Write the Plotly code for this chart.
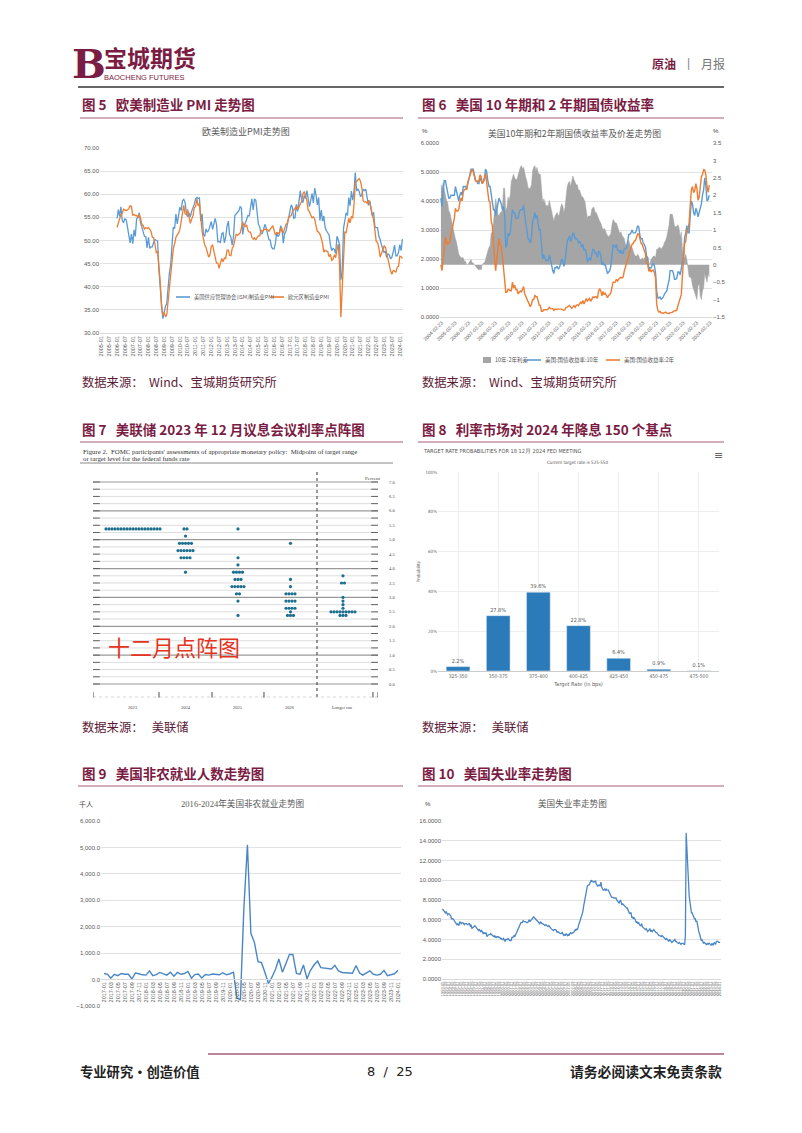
import pandas as pd
import plotly.graph_objects as go

W, H = 802, 1133
def fx(p): return p / W
def fy(p): return 1 - p / H

MAROON = "#7a1c43"
LINE_PINK = "#a35c7c"
GRAY_TXT = "#595959"
BLUE = "#5b9bd5"
ORANGE = "#ed7d31"
SPREAD_GRAY = "#a5a5a5"
NFP_BLUE = "#4a86c5"
DOT_COLOR = "#1d6f8f"
CJK = "Noto Sans CJK SC"
NUM = "Liberation Sans"
NARROW = "Liberation Sans Narrow, DejaVu Sans Condensed, Liberation Sans, sans-serif"
SERIF = "Liberation Serif"

# ---------------- Fig 5: PMI (monthly 2006-01 .. 2024-03) ----------------
ism_pmi = [
    54.8, 56.7, 55.2, 57.3, 54.4, 53.8, 54.7, 54.5, 52.9, 51.2, 49.5, 51.4,
    49.3, 52.3, 50.9, 54.7, 55.0, 56.0, 53.8, 52.9, 52.0, 50.9, 50.8, 48.4,
    50.7, 48.3, 48.6, 48.6, 49.6, 50.2, 50.0, 49.9, 43.5, 38.9, 36.2, 33.1,
    34.9, 35.8, 36.3, 40.1, 42.8, 44.8, 48.9, 52.9, 52.6, 55.7, 53.6, 55.9,
    57.2, 56.5, 58.6, 58.9, 58.3, 56.0, 55.1, 56.0, 55.1, 56.3, 57.0, 57.8,
    59.0, 59.3, 59.1, 59.2, 54.2, 55.8, 51.4, 50.9, 52.5, 51.8, 52.2, 53.1,
    54.1, 52.4, 53.4, 54.8, 53.5, 49.7, 49.8, 49.6, 51.5, 51.7, 49.5, 50.7,
    53.1, 54.2, 51.3, 50.7, 49.0, 50.9, 55.4, 55.7, 56.2, 56.4, 57.3, 57.0,
    51.3, 53.2, 53.7, 54.9, 55.4, 55.3, 57.1, 59.0, 56.6, 59.0, 58.7, 55.5,
    53.5, 52.9, 51.5, 51.5, 52.8, 53.5, 52.7, 51.1, 50.2, 50.1, 48.6, 48.2,
    48.2, 49.5, 51.8, 50.8, 51.3, 53.2, 52.6, 49.4, 51.5, 51.9, 53.2, 54.7,
    56.0, 57.7, 57.2, 54.8, 54.9, 57.8, 56.3, 58.8, 60.8, 58.7, 58.2, 59.7,
    59.1, 60.8, 59.3, 57.3, 58.7, 60.2, 58.1, 61.3, 59.8, 57.7, 59.3, 54.3,
    56.6, 54.2, 55.3, 52.8, 52.1, 51.7, 51.2, 49.1, 47.8, 48.3, 48.1, 47.2,
    50.9, 50.1, 49.1, 41.5, 43.1, 52.6, 54.2, 56.0, 55.4, 59.3, 57.5, 60.7,
    58.7, 60.8, 64.7, 60.7, 61.2, 60.6, 59.5, 59.9, 61.1, 60.8, 61.1, 58.7,
    57.6, 58.6, 57.1, 55.4, 56.1, 53.0, 52.8, 52.8, 50.9, 50.2, 49.0, 48.4,
    47.4, 47.7, 46.3, 47.1, 46.9, 46.0, 46.4, 47.6, 49.0, 46.7, 46.7, 47.4,
    49.1, 47.8, 50.3,
]
euro_pmi = [
    52.8, 53.7, 54.4, 55.6, 55.8, 56.8, 56.6, 56.5, 56.6, 56.9, 57.5, 57.4,
    55.5, 55.6, 55.4, 55.4, 55.0, 55.6, 54.9, 53.5, 53.2, 52.4, 52.8, 52.6,
    52.8, 52.3, 52.0, 50.7, 50.6, 49.2, 47.4, 47.6, 45.0, 41.1, 35.6, 33.9,
    34.4, 33.5, 33.9, 36.8, 40.7, 42.6, 46.3, 48.2, 49.3, 50.7, 51.2, 51.6,
    52.4, 54.2, 56.6, 57.6, 55.8, 55.6, 56.7, 55.1, 53.7, 54.6, 55.3, 57.1,
    57.3, 59.0, 57.5, 58.0, 54.6, 52.0, 50.4, 49.0, 48.5, 47.1, 46.4, 46.9,
    48.8, 49.0, 47.7, 45.9, 45.1, 45.1, 44.0, 45.1, 46.1, 45.4, 46.2, 46.1,
    47.9, 47.9, 46.8, 46.7, 48.3, 48.8, 50.3, 51.4, 51.1, 51.3, 51.6, 52.7,
    54.0, 53.2, 53.0, 53.4, 52.2, 51.8, 51.8, 50.7, 50.3, 50.6, 50.1, 50.6,
    51.0, 51.0, 52.2, 52.0, 52.2, 52.5, 52.4, 52.3, 52.0, 52.3, 52.8, 53.2,
    52.3, 51.2, 51.6, 51.7, 51.5, 52.8, 52.0, 51.7, 52.6, 53.5, 53.7, 54.9,
    55.2, 55.4, 56.2, 56.7, 57.0, 57.4, 56.6, 57.4, 58.1, 58.5, 60.1, 60.6,
    59.6, 58.6, 56.6, 56.2, 55.5, 54.9, 55.1, 54.6, 53.2, 52.0, 51.8, 51.4,
    50.5, 49.3, 47.5, 47.9, 47.7, 47.6, 46.5, 47.0, 45.7, 45.9, 46.9, 46.3,
    47.9, 49.2, 44.5, 33.4, 39.4, 47.4, 51.8, 51.7, 53.7, 54.8, 53.8, 55.2,
    54.8, 57.9, 62.5, 62.9, 63.1, 63.4, 62.8, 61.4, 58.6, 58.3, 58.4, 58.0,
    58.7, 58.2, 56.5, 55.5, 54.6, 52.1, 49.8, 49.6, 48.4, 46.4, 47.1, 47.8,
    48.8, 48.5, 47.3, 45.8, 44.8, 43.4, 42.7, 43.5, 43.4, 43.1, 44.2, 44.4,
    46.6, 46.5, 46.1,
]
pmi_dates = pd.date_range("2006-01-01", periods=len(ism_pmi), freq="MS")
pmi_tick_vals = list(pd.date_range("2005-01-01", "2024-01-01", freq="6MS"))
pmi_tick_text = [d.strftime("%Y-%m") for d in pmi_tick_vals]
pmi_series_names = ["美国供应管理协会(ISM)制造业PMI", "欧元区制造业PMI"]

# ---------------- Fig 6: US 10Y / 2Y yields (monthly 2004-02 .. 2024-02) ----------------
us10y = [
    4.1, 3.8, 4.35, 4.7, 4.7, 4.5, 4.3, 4.1, 4.1, 4.2, 4.2,
    4.2, 4.2, 4.5, 4.3, 4.1, 4.0, 4.2, 4.3, 4.2, 4.5, 4.5, 4.5,
    4.4, 4.6, 4.7, 5.0, 5.1, 5.1, 5.1, 4.9, 4.7, 4.7, 4.6, 4.6,
    4.8, 4.7, 4.6, 4.7, 4.8, 5.1, 5.0, 4.7, 4.5, 4.5, 4.2, 4.1,
    3.7, 3.7, 3.5, 3.7, 3.9, 4.1, 4.0, 3.9, 3.7, 3.8, 3.5, 2.4,
    2.5, 2.9, 2.8, 2.9, 3.3, 3.7, 3.6, 3.6, 3.4, 3.4, 3.4, 3.6,
    3.7, 3.7, 3.7, 3.85, 3.4, 3.2, 3.0, 2.7, 2.65, 2.55, 2.75, 3.3,
    3.4, 3.6, 3.4, 3.5, 3.2, 3.0, 3.0, 2.3, 2.0, 2.15, 2.0, 1.95,
    1.95, 1.95, 2.15, 2.0, 1.8, 1.6, 1.5, 1.7, 1.7, 1.75, 1.65, 1.7,
    1.9, 2.0, 1.95, 1.75, 1.9, 2.3, 2.6, 2.7, 2.8, 2.6, 2.7, 2.9,
    2.85, 2.7, 2.7, 2.7, 2.55, 2.6, 2.55, 2.4, 2.5, 2.3, 2.35, 2.2,
    1.9, 2.0, 2.05, 1.95, 2.2, 2.35, 2.3, 2.2, 2.2, 2.05, 2.25, 2.25,
    2.1, 1.8, 1.9, 1.8, 1.8, 1.65, 1.5, 1.55, 1.6, 1.75, 2.15, 2.5,
    2.45, 2.4, 2.5, 2.3, 2.3, 2.2, 2.3, 2.2, 2.2, 2.35, 2.35, 2.4,
    2.6, 2.85, 2.85, 2.9, 3.0, 2.9, 2.9, 2.9, 3.0, 3.15, 3.1, 2.8,
    2.7, 2.7, 2.55, 2.5, 2.4, 2.1, 2.05, 1.6, 1.7, 1.7, 1.8, 1.85,
    1.75, 1.5, 0.9, 0.65, 0.65, 0.7, 0.6, 0.65, 0.7, 0.8, 0.85, 0.9,
    1.1, 1.25, 1.6, 1.6, 1.6, 1.5, 1.3, 1.3, 1.35, 1.55, 1.55, 1.45,
    1.75, 1.9, 2.1, 2.75, 2.9, 3.15, 2.9, 2.9, 3.5, 4.0, 3.9, 3.6,
    3.5, 3.75, 3.65, 3.45, 3.6, 3.75, 3.9, 4.2, 4.4, 4.8, 4.5, 4.0,
    4.05, 4.2,
]
us2y = [
    1.8, 1.6, 2.0, 2.5, 2.75, 2.65, 2.5, 2.55, 2.6, 2.85, 3.0,
    3.2, 3.4, 3.75, 3.65, 3.65, 3.7, 3.95, 4.1, 4.0, 4.3, 4.4, 4.4,
    4.4, 4.65, 4.75, 4.9, 4.95, 5.1, 5.0, 4.8, 4.7, 4.7, 4.65, 4.7,
    4.9, 4.85, 4.6, 4.65, 4.75, 4.95, 4.7, 4.3, 4.0, 3.95, 3.3, 3.15,
    2.5, 2.1, 1.6, 2.0, 2.45, 2.7, 2.5, 2.4, 2.1, 1.6, 1.3, 0.85,
    0.85, 0.95, 0.95, 0.9, 0.9, 1.2, 1.0, 1.1, 0.95, 0.95, 0.8, 0.85,
    0.9, 0.85, 0.95, 1.05, 0.8, 0.7, 0.6, 0.5, 0.45, 0.35, 0.45, 0.6,
    0.6, 0.75, 0.7, 0.7, 0.55, 0.4, 0.4, 0.2, 0.2, 0.25, 0.25, 0.25,
    0.25, 0.28, 0.33, 0.29, 0.29, 0.29, 0.23, 0.27, 0.26, 0.28, 0.27, 0.26,
    0.27, 0.27, 0.26, 0.23, 0.25, 0.33, 0.34, 0.36, 0.4, 0.34, 0.3, 0.34,
    0.39, 0.33, 0.4, 0.42, 0.39, 0.45, 0.51, 0.47, 0.57, 0.45, 0.53, 0.64,
    0.55, 0.62, 0.64, 0.54, 0.61, 0.69, 0.67, 0.7, 0.69, 0.64, 0.88, 0.98,
    0.9, 0.73, 0.88, 0.77, 0.82, 0.73, 0.67, 0.74, 0.77, 0.84, 0.98, 1.2,
    1.2, 1.21, 1.3, 1.24, 1.3, 1.34, 1.37, 1.34, 1.38, 1.58, 1.72, 1.84,
    2.0, 2.18, 2.28, 2.42, 2.51, 2.53, 2.62, 2.64, 2.77, 2.86, 2.86, 2.68,
    2.54, 2.5, 2.41, 2.31, 2.17, 1.85, 1.84, 1.57, 1.65, 1.55, 1.61, 1.61,
    1.52, 1.33, 0.45, 0.23, 0.17, 0.19, 0.14, 0.14, 0.13, 0.15, 0.17, 0.13,
    0.13, 0.12, 0.15, 0.16, 0.16, 0.2, 0.22, 0.21, 0.24, 0.39, 0.52, 0.68,
    0.78, 1.44, 1.91, 2.54, 2.6, 2.99, 3.0, 3.25, 3.86, 4.38, 4.5, 4.29,
    4.36, 4.6, 4.44, 4.03, 4.13, 4.64, 4.83, 4.92, 5.08, 5.07, 4.88, 4.5,
    4.3, 4.55,
]
spread_10y2y = [
    2.3, 2.2, 2.35, 2.2, 1.95, 1.85, 1.8, 1.55, 1.5, 1.35, 1.2,
    1.0, 0.8, 0.75, 0.65, 0.45, 0.3, 0.25, 0.2, 0.2, 0.2, 0.1, 0.1,
    0.0, 0.0, 0.05, 0.1, 0.15, 0.05, 0.05, 0.0, -0.05, -0.1, -0.12, -0.15,
    -0.12, -0.15, 0.0, 0.05, 0.05, 0.15, 0.3, 0.4, 0.5, 0.55, 0.9, 0.95,
    1.2, 1.6, 1.9, 1.7, 1.45, 1.4, 1.5, 1.5, 1.6, 2.2, 2.2, 1.55,
    1.65, 1.95, 1.85, 2.0, 2.4, 2.5, 2.6, 2.5, 2.45, 2.45, 2.6, 2.75,
    2.8, 2.85, 2.75, 2.8, 2.6, 2.5, 2.4, 2.2, 2.2, 2.2, 2.3, 2.7,
    2.8, 2.85, 2.7, 2.8, 2.65, 2.6, 2.6, 2.1, 1.8, 1.9, 1.75, 1.7,
    1.7, 1.7, 1.85, 1.7, 1.5, 1.35, 1.25, 1.4, 1.45, 1.5, 1.4, 1.45,
    1.65, 1.75, 1.7, 1.5, 1.65, 2.0, 2.25, 2.35, 2.4, 2.25, 2.4, 2.55,
    2.45, 2.35, 2.3, 2.3, 2.15, 2.15, 2.05, 1.95, 1.95, 1.85, 1.8, 1.55,
    1.35, 1.4, 1.4, 1.4, 1.6, 1.65, 1.65, 1.5, 1.5, 1.4, 1.35, 1.25,
    1.2, 1.05, 1.0, 1.05, 1.0, 0.9, 0.85, 0.8, 0.85, 0.9, 1.15, 1.3,
    1.25, 1.2, 1.2, 1.05, 1.0, 0.9, 0.95, 0.85, 0.8, 0.75, 0.6, 0.55,
    0.6, 0.7, 0.6, 0.5, 0.5, 0.35, 0.3, 0.25, 0.25, 0.3, 0.25, 0.15,
    0.15, 0.2, 0.15, 0.2, 0.2, 0.25, 0.2, 0.0, 0.05, 0.15, 0.2, 0.25,
    0.25, 0.2, 0.45, 0.45, 0.5, 0.5, 0.45, 0.5, 0.55, 0.65, 0.7, 0.8,
    0.95, 1.15, 1.45, 1.45, 1.45, 1.3, 1.1, 1.1, 1.1, 1.15, 1.05, 0.8,
    0.95, 0.45, 0.2, 0.2, 0.3, 0.15, -0.1, -0.35, -0.35, -0.4, -0.6, -0.7,
    -0.8, -0.85, -1.0, -0.6, -0.55, -0.9, -1.0, -0.75, -0.65, -0.25, -0.4, -0.5,
    -0.25, -0.35,
]
bond_dates = pd.date_range("2004-02-01", periods=len(us10y), freq="MS")
bond_tick_text = [f"{y}-02-23" for y in range(2004, 2025)]
bond_tick_vals = bond_tick_text
bond_series_names = ["10年-2年利差", "美国:国债收益率:10年", "美国:国债收益率:2年"]

# ---------------- Fig 7: Dec 2023 FOMC dot plot (level -> count) ----------------
dot_columns = ["2023", "2024", "2025", "2026", "Longer run"]
dots_2023 = {5.375: 19}
dots_2024 = {5.375: 2, 5.125: 1, 4.875: 5, 4.625: 6, 4.375: 4, 3.875: 1}
dots_2025 = {5.375: 1, 4.375: 1, 4.125: 1, 3.875: 4, 3.625: 3, 3.375: 5, 3.125: 2, 2.875: 1, 2.375: 1}
dots_2026 = {4.875: 1, 3.625: 1, 3.375: 1, 3.125: 4, 2.875: 4, 2.625: 4, 2.5: 1, 2.375: 3}
dots_longer = {3.75: 1, 3.5: 2, 3.0: 1, 2.875: 1, 2.75: 1, 2.625: 1, 2.5: 9, 2.375: 3}
dot_data = [dots_2023, dots_2024, dots_2025, dots_2026, dots_longer]
dot_axis_labels = ["7.0", "6.5", "6.0", "5.5", "5.0", "4.5", "4.0", "3.5", "3.0", "2.5", "2.0", "1.5", "1.0", "0.5", "0.0"]

# ---------------- Fig 8: CME FedWatch ----------------
rate_bins = ["325-350", "350-375", "375-400", "400-425", "425-450", "450-475", "475-500"]
rate_probs = [2.2, 27.8, 39.6, 22.8, 6.4, 0.9, 0.1]

# ---------------- Fig 9: nonfarm payrolls change (thousand, 2017-01 .. 2024-01) ----------------
nfp = [
    230, 200, 50, 200, 150, 230, 200, 200, 20, 250, 220, 180,
    170, 330, 150, 190, 270, 230, 170, 280, 130, 270, 200, 230,
    310, 50, 190, 210, 60, 190, 170, 210, 190, 180, 260, 180,
    220, 280, -700, -760, 2700, 5100, 1750, 1400, 680, 640, 260, -150,
    100, 400, 780, 280, 600, 950, 950, 230, 200, 550, 30, 350,
    550, 700, 450, 430, 400, 400, 540, 330, 270, 260, 260, 240,
    530, 250, 170, 250, 330, 200, 170, 200, 350, 150, 200, 220,
    350,
]
nfp_dates = pd.date_range("2017-01-01", periods=len(nfp), freq="MS")
nfp_tick_vals = list(pd.date_range("2017-01-01", "2024-01-01", freq="2MS"))
nfp_tick_text = [d.strftime("%Y-%m") for d in nfp_tick_vals]

# ---------------- Fig 10: unemployment rate (%, 1993-05 .. 2024-01) ----------------
unemp = [
    7.1, 7.0, 6.9, 6.8, 6.7, 6.8, 6.6, 6.5,
    6.6, 6.6, 6.5, 6.4, 6.1, 6.1, 6.1, 6.0, 5.9, 5.8, 5.6, 5.5,
    5.6, 5.4, 5.4, 5.8, 5.6, 5.6, 5.7, 5.7, 5.6, 5.5, 5.6, 5.6,
    5.6, 5.5, 5.5, 5.6, 5.6, 5.3, 5.5, 5.1, 5.2, 5.2, 5.4, 5.4,
    5.3, 5.2, 5.2, 5.1, 4.9, 5.0, 4.9, 4.8, 4.9, 4.7, 4.6, 4.7,
    4.6, 4.6, 4.7, 4.3, 4.4, 4.5, 4.5, 4.5, 4.6, 4.5, 4.4, 4.4,
    4.3, 4.4, 4.2, 4.3, 4.2, 4.3, 4.3, 4.2, 4.2, 4.1, 4.1, 4.0,
    4.0, 4.1, 4.0, 3.8, 4.0, 4.0, 4.0, 4.1, 3.9, 3.9, 3.9, 3.9,
    4.2, 4.2, 4.3, 4.4, 4.3, 4.5, 4.6, 4.9, 5.0, 5.3, 5.5, 5.7,
    5.7, 5.7, 5.7, 5.9, 5.8, 5.8, 5.8, 5.7, 5.7, 5.7, 5.9, 6.0,
    5.8, 5.9, 5.9, 6.0, 6.1, 6.3, 6.2, 6.1, 6.1, 6.0, 5.8, 5.7,
    5.7, 5.6, 5.8, 5.6, 5.6, 5.6, 5.5, 5.4, 5.4, 5.5, 5.4, 5.4,
    5.3, 5.4, 5.2, 5.2, 5.1, 5.0, 5.0, 4.9, 5.0, 5.0, 5.0, 4.9,
    4.7, 4.8, 4.7, 4.7, 4.6, 4.6, 4.7, 4.7, 4.5, 4.4, 4.5, 4.4,
    4.6, 4.5, 4.4, 4.5, 4.4, 4.6, 4.7, 4.6, 4.7, 4.7, 4.7, 5.0,
    5.0, 4.9, 5.1, 5.0, 5.4, 5.6, 5.8, 6.1, 6.1, 6.5, 6.8, 7.3,
    7.8, 8.3, 8.7, 9.0, 9.4, 9.5, 9.5, 9.6, 9.8, 10.0, 9.9, 9.9,
    9.8, 9.8, 9.9, 9.9, 9.6, 9.4, 9.4, 9.5, 9.5, 9.4, 9.8, 9.3,
    9.1, 9.0, 9.0, 9.1, 9.0, 9.1, 9.0, 9.0, 9.0, 8.8, 8.6, 8.5,
    8.3, 8.3, 8.2, 8.2, 8.2, 8.2, 8.2, 8.0, 7.8, 7.8, 7.7, 7.9,
    8.0, 7.7, 7.5, 7.6, 7.5, 7.5, 7.3, 7.2, 7.2, 7.2, 6.9, 6.7,
    6.6, 6.7, 6.7, 6.2, 6.3, 6.1, 6.2, 6.1, 5.9, 5.7, 5.8, 5.6,
    5.7, 5.5, 5.4, 5.4, 5.6, 5.3, 5.2, 5.1, 5.0, 5.0, 5.1, 5.0,
    4.8, 4.9, 5.0, 5.1, 4.8, 4.9, 4.8, 4.9, 5.0, 4.9, 4.7, 4.7,
    4.7, 4.6, 4.4, 4.4, 4.4, 4.3, 4.3, 4.4, 4.3, 4.2, 4.2, 4.1,
    4.0, 4.1, 4.0, 4.0, 3.8, 4.0, 3.8, 3.8, 3.7, 3.8, 3.8, 3.9,
    4.0, 3.8, 3.8, 3.7, 3.6, 3.6, 3.7, 3.6, 3.5, 3.6, 3.6, 3.6,
    3.5, 3.5, 4.4, 14.8, 13.2, 11.0, 10.2, 8.4, 7.8, 6.8, 6.7, 6.7,
    6.4, 6.2, 6.1, 6.1, 5.8, 5.9, 5.4, 5.1, 4.7, 4.5, 4.2, 3.9,
    4.0, 3.8, 3.6, 3.7, 3.6, 3.6, 3.5, 3.6, 3.5, 3.6, 3.6, 3.5,
    3.4, 3.6, 3.5, 3.4, 3.7, 3.6, 3.5, 3.8, 3.8, 3.8, 3.7, 3.7,
    3.7,
]
unemp_dates = pd.date_range("1993-05-01", periods=len(unemp), freq="MS")
unemp_tick_vals = list(unemp_dates[::4])
unemp_tick_text = [d.strftime("%Y-%m") for d in unemp_tick_vals]

# ======================================================================
fig = go.Figure()

# Fig 5
fig.add_trace(go.Scatter(x=pmi_dates, y=ism_pmi, mode="lines", name=pmi_series_names[0],
                         line=dict(color=BLUE, width=1.3), xaxis="x", yaxis="y", showlegend=False))
fig.add_trace(go.Scatter(x=pmi_dates, y=euro_pmi, mode="lines", name=pmi_series_names[1],
                         line=dict(color=ORANGE, width=1.3), xaxis="x", yaxis="y", showlegend=False))

# Fig 6 (spread on base axis y2 -> drawn beneath; yields on overlaying y3)
fig.add_trace(go.Scatter(x=bond_dates, y=spread_10y2y, mode="lines", name=bond_series_names[0],
                         fill="tozeroy", fillcolor=SPREAD_GRAY, line=dict(color=SPREAD_GRAY, width=0.5),
                         xaxis="x2", yaxis="y2", showlegend=False))
fig.add_trace(go.Scatter(x=bond_dates, y=us10y, mode="lines", name=bond_series_names[1],
                         line=dict(color=BLUE, width=1.4), xaxis="x2", yaxis="y3", showlegend=False))
fig.add_trace(go.Scatter(x=bond_dates, y=us2y, mode="lines", name=bond_series_names[2],
                         line=dict(color=ORANGE, width=1.4), xaxis="x2", yaxis="y3", showlegend=False))

# Fig 7 dots
PITCH = 3.0 / 52.5
dx, dy = [], []
for ci, col in enumerate(dot_data):
    for lvl, n in col.items():
        for k in range(n):
            dx.append(ci + (k - (n - 1) / 2) * PITCH)
            dy.append(lvl)
fig.add_trace(go.Scatter(x=dx, y=dy, mode="markers", marker=dict(size=3.2, color=DOT_COLOR),
                         xaxis="x4", yaxis="y4", showlegend=False, hoverinfo="skip"))

# Fig 8 bars
fig.add_trace(go.Bar(x=rate_bins, y=rate_probs, marker_color="#2b7bba", width=0.59,
                     text=[f"{v}%" for v in rate_probs], textposition="outside", cliponaxis=False,
                     textfont=dict(size=5.5, color="#555555", family=NARROW),
                     xaxis="x5", yaxis="y5", showlegend=False))

# Fig 9
fig.add_trace(go.Scatter(x=nfp_dates, y=nfp, mode="lines", line=dict(color=NFP_BLUE, width=1.4),
                         xaxis="x6", yaxis="y6", showlegend=False))
# Fig 10
fig.add_trace(go.Scatter(x=unemp_dates, y=unemp, mode="lines", line=dict(color=NFP_BLUE, width=1.3),
                         xaxis="x7", yaxis="y7", showlegend=False))

tickf = dict(size=6, color=GRAY_TXT, family=NUM)
GRID = "#e2e2e2"

# dot plot axis geometry
DP_X0, DP_X1 = -0.762, 4.667
def dp_py(v):  # level -> pixel y
    return 684 - v * 28.857
DP_Y0 = (684 - 700) / 28.857
DP_Y1 = 7 + (482 - 470) / 28.857

layout = dict(
    width=W, height=H, autosize=False, showlegend=False,
    margin=dict(l=0, r=0, t=0, b=0, pad=0, autoexpand=False),
    paper_bgcolor="white", plot_bgcolor="white",
    font=dict(family=CJK, color=GRAY_TXT),
    xaxis=dict(domain=[fx(100), fx(403)], anchor="y", type="date", range=["2004-12-01", "2024-03-15"],
               tickvals=pmi_tick_vals, ticktext=pmi_tick_text, tickangle=-90,
               tickfont=dict(size=5.5, color=GRAY_TXT, family=NUM), showgrid=False,
               showline=True, linecolor="#d9d9d9", ticks="", zeroline=False),
    yaxis=dict(domain=[fy(333), fy(148)], anchor="x", range=[30, 70], dtick=5, tick0=30,
               tickformat=".2f", tickfont=tickf, gridcolor=GRID, zeroline=False, ticks=""),
    xaxis2=dict(domain=[fx(440), fx(712)], anchor="y2", type="date", range=["2004-01-07", "2024-04-15"],
                tickvals=bond_tick_vals, ticktext=bond_tick_text, tickangle=-45,
                tickfont=dict(size=5, color=GRAY_TXT, family=NUM), showgrid=False,
                showline=True, linecolor="#d9d9d9", ticks="", zeroline=False),
    yaxis2=dict(domain=[fy(317), fy(143)], anchor="x2", side="right", range=[-1.5, 3.5], dtick=0.5,
                tickfont=tickf, showgrid=False, zeroline=False, ticks=""),
    yaxis3=dict(overlaying="y2", anchor="x2", side="left", range=[0, 6], dtick=1, tickformat=".4f",
                tickfont=tickf, gridcolor=GRID, zeroline=False, ticks=""),
    xaxis4=dict(domain=[fx(93), fx(378)], anchor="y4", range=[DP_X0, DP_X1], visible=False),
    yaxis4=dict(domain=[fy(700), fy(470)], anchor="x4", range=[DP_Y0, DP_Y1], visible=False),
    xaxis5=dict(domain=[fx(438), fx(719)], anchor="y5", type="category",
                tickfont=dict(size=5, color="#666666", family=NARROW), showgrid=True, gridcolor="#eeeeee",
                showline=True, linecolor="#cccccc", ticks="",
                title=dict(text="Target Rate (in bps)", font=dict(size=5.5, color="#666666", family=NARROW), standoff=4)),
    yaxis5=dict(domain=[fy(671), fy(472)], anchor="x5", range=[0, 100], dtick=20, ticksuffix="%",
                tickfont=dict(size=4.5, color="#666666", family=NARROW), gridcolor="#eeeeee", zeroline=False, ticks="",
                title=dict(text="Probability", font=dict(size=4.5, color="#666666", family=NARROW), standoff=4)),
    xaxis6=dict(domain=[fx(101), fx(401)], anchor="free", position=fy(979), type="date",
                range=["2016-12-06", "2024-01-27"], tickvals=nfp_tick_vals, ticktext=nfp_tick_text,
                tickangle=-90, tickfont=dict(size=5.5, color=GRAY_TXT, family=NUM), showgrid=False,
                showline=True, linecolor="#d9d9d9", ticks="", zeroline=False),
    yaxis6=dict(domain=[fy(1006), fy(821)], anchor="x6", range=[-1000, 6000], dtick=1000,
                tickformat=",.1f", tickfont=tickf, gridcolor=GRID, zeroline=False, ticks=""),
    xaxis7=dict(domain=[fx(442), fx(721)], anchor="y7", type="date", range=["1993-04-15", "2024-02-05"],
                tickvals=unemp_tick_vals, ticktext=unemp_tick_text, tickangle=-90,
                tickfont=dict(size=4, color=GRAY_TXT, family=NUM), showgrid=False,
                showline=True, linecolor="#d9d9d9", ticks="", zeroline=False),
    yaxis7=dict(domain=[fy(979), fy(821)], anchor="x7", range=[0, 16], dtick=2, tickformat=".4f",
                tickfont=tickf, gridcolor=GRID, zeroline=False, ticks=""),
    bargap=0.4,
)
for k in list(layout.keys()):
    if k.startswith("xaxis") or k.startswith("yaxis"):
        layout[k]["automargin"] = False

ann = []
def txt(x, y, s, size, color, family=CJK, xanchor="left", yanchor="middle", angle=0):
    ann.append(dict(xref="paper", yref="paper", x=fx(x), y=fy(y), text=s, showarrow=False,
                    xanchor=xanchor, yanchor=yanchor, textangle=angle,
                    font=dict(size=size, color=color, family=family)))

shapes = []
def hline(x0, x1, y, color, width, dash="solid"):
    shapes.append(dict(type="line", xref="paper", yref="paper", x0=fx(x0), x1=fx(x1), y0=fy(y), y1=fy(y),
                       line=dict(color=color, width=width, dash=dash)))

# header
txt(89, 63, "<b>B</b>", 40, MAROON, family="DejaVu Serif", xanchor="center")
txt(102, 57, "<b>宝城期货</b>", 23, MAROON)
txt(102, 78, "BAOCHENG FUTURES", 7.5, MAROON, family=NUM)
txt(650, 64, "<b>原油</b>", 12, MAROON)
txt(688, 63, "|", 12, "#888888", family=NUM, xanchor="center")
txt(699, 64, "月报", 12, "#777777")

# headings
HS = 13.5
txt(80, 104, "<b>图 5   欧美制造业 PMI 走势图</b>", HS, MAROON)
txt(420, 104, "<b>图 6   美国 10 年期和 2 年期国债收益率</b>", HS, MAROON)
txt(80, 429, "<b>图 7   美联储 2023 年 12 月议息会议利率点阵图</b>", HS, MAROON)
txt(420, 429, "<b>图 8   利率市场对 2024 年降息 150 个基点</b>", HS, MAROON)
txt(80, 773, "<b>图 9   美国非农就业人数走势图</b>", HS, MAROON)
txt(420, 773, "<b>图 10   美国失业率走势图</b>", HS, MAROON)

SRC = "#5c1a36"
txt(80, 382, "数据来源：  Wind、宝城期货研究所", 12.3, SRC)
txt(420, 382, "数据来源：  Wind、宝城期货研究所", 12.3, SRC)
txt(80, 727, "数据来源：   美联储", 12.3, SRC)
txt(420, 727, "数据来源：   美联储", 12.3, SRC)

# chart titles
txt(246, 132, "欧美制造业PMI走势图", 9, GRAY_TXT, xanchor="center")
txt(574, 133, "美国10年期和2年期国债收益率及价差走势图", 8.8, GRAY_TXT, xanchor="center")
txt(425, 131, "%", 6, "#404040", family=NUM, xanchor="center")
txt(716, 131, "%", 6, "#404040", family=NUM, xanchor="center")
txt(242, 803, "2016-2024年美国非农就业走势图", 8.6, GRAY_TXT, family="Liberation Serif, " + CJK, xanchor="center")
txt(86, 804, "千人", 7, "#404040", xanchor="center")
txt(572, 803, "美国失业率走势图", 8.6, GRAY_TXT, xanchor="center")
txt(428, 804, "%", 6, "#404040", family=NUM, xanchor="center")

# fig 5 legend (manual)
hline(176, 190, 297, BLUE, 1.6)
txt(192, 297, pmi_series_names[0], 5.3, GRAY_TXT)
hline(271, 284, 297, ORANGE, 1.6)
txt(286, 297, pmi_series_names[1], 5.3, GRAY_TXT)

# fig 6 legend (manual)
shapes.append(dict(type="rect", xref="paper", yref="paper", x0=fx(483), x1=fx(491), y0=fy(363), y1=fy(357),
                   fillcolor=SPREAD_GRAY, line=dict(width=0)))
txt(493, 360, bond_series_names[0], 5.5, GRAY_TXT)
hline(527, 541, 360, BLUE, 1.6)
txt(543, 360, bond_series_names[1], 5.5, GRAY_TXT)
hline(606, 620, 360, ORANGE, 1.6)
txt(622, 360, bond_series_names[2], 5.5, GRAY_TXT)

# fig 8 texts
txt(421, 451, "TARGET RATE PROBABILITIES FOR 18 12月 2024 FED MEETING", 5.6, "#555555", family=NARROW)
txt(577, 462, "Current target rate is 525-550", 4.5, "#555555", family=NARROW, xanchor="center")
txt(718, 455, "≡", 11, "#666666", family="DejaVu Sans", xanchor="center")

# fig 7 texts
txt(81, 452, "Figure 2.  FOMC participants' assessments of appropriate monetary policy:  Midpoint of target range",
    6.8, "#333333", family=SERIF)
txt(81, 458, "or target level for the federal funds rate", 6.8, "#333333", family=SERIF)
txt(373, 478, "Percent", 5, "#444444", family=SERIF, xanchor="center")
for lab in dot_axis_labels:
    txt(392, dp_py(float(lab)), lab, 4.5, "#444444", family=SERIF, xanchor="center")
for ci, lab in enumerate(dot_columns):
    ann.append(dict(xref="x4", yref="paper", x=ci, y=fy(707), text=lab, showarrow=False,
                    font=dict(size=4.5, color="#444444", family=SERIF)))
txt(106, 646, "十二月点阵图", 22, "#e53323")

# footer
txt(78, 1071, "<b>专业研究·创造价值</b>", 13.3, "#222222")
txt(390, 1071, "8  /  25", 13, "#222222", family="DejaVu Sans", xanchor="center")
txt(724, 1071, "<b>请务必阅读文末免责条款</b>", 13.8, "#222222", xanchor="right")

layout["annotations"] = ann

hline(78, 724, 87, "#333333", 1.5)
hline(80, 403, 118, LINE_PINK, 1.2)
hline(418, 724, 118, LINE_PINK, 1.2)
hline(80, 403, 442, LINE_PINK, 1.2)
hline(418, 724, 442, LINE_PINK, 1.2)
hline(78, 403, 786, LINE_PINK, 1.2)
hline(418, 724, 786, LINE_PINK, 1.2)
hline(208, 724, 1054, LINE_PINK, 1.5)
hline(80, 393, 463, "#888888", 1)

# dot plot grid
for i in range(29):
    lv = i * 0.25
    major = (i % 4 == 0)
    shapes.append(dict(type="line", xref="x4", yref="y4", x0=DP_X0, x1=DP_X1, y0=lv, y1=lv, layer="below",
                       line=dict(color="#9a9a9a" if major else "#d4d4d4", width=1.2 if major else 0.8)))
    for a, b in [(DP_X0, DP_X0 + 0.13), (DP_X1 - 0.13, DP_X1)]:
        shapes.append(dict(type="line", xref="x4", yref="y4", x0=a, x1=b, y0=lv, y1=lv, layer="below",
                           line=dict(color="#555555", width=0.9)))
shapes.append(dict(type="line", xref="x4", yref="y4", x0=3.505, x1=3.505, y0=-0.45, y1=7.35,
                   line=dict(color="#333333", width=1, dash="dot")))
shapes.append(dict(type="line", xref="x4", yref="y4", x0=DP_X0, x1=DP_X1, y0=-0.45, y1=-0.45,
                   line=dict(color="#bbbbbb", width=0.6, dash="dot")))
for tx in [DP_X0, 0.495, 1.505, 2.495, 4.571, DP_X1]:
    shapes.append(dict(type="line", xref="x4", yref="y4", x0=tx, x1=tx, y0=-0.28, y1=-0.47,
                       line=dict(color="#333333", width=0.9)))
layout["shapes"] = shapes

fig.update_layout(**layout)
fig.write_html("out.html", config={"displayModeBar": False},
               post_script="document.body.style.margin='0';document.body.style.overflow='hidden';")
